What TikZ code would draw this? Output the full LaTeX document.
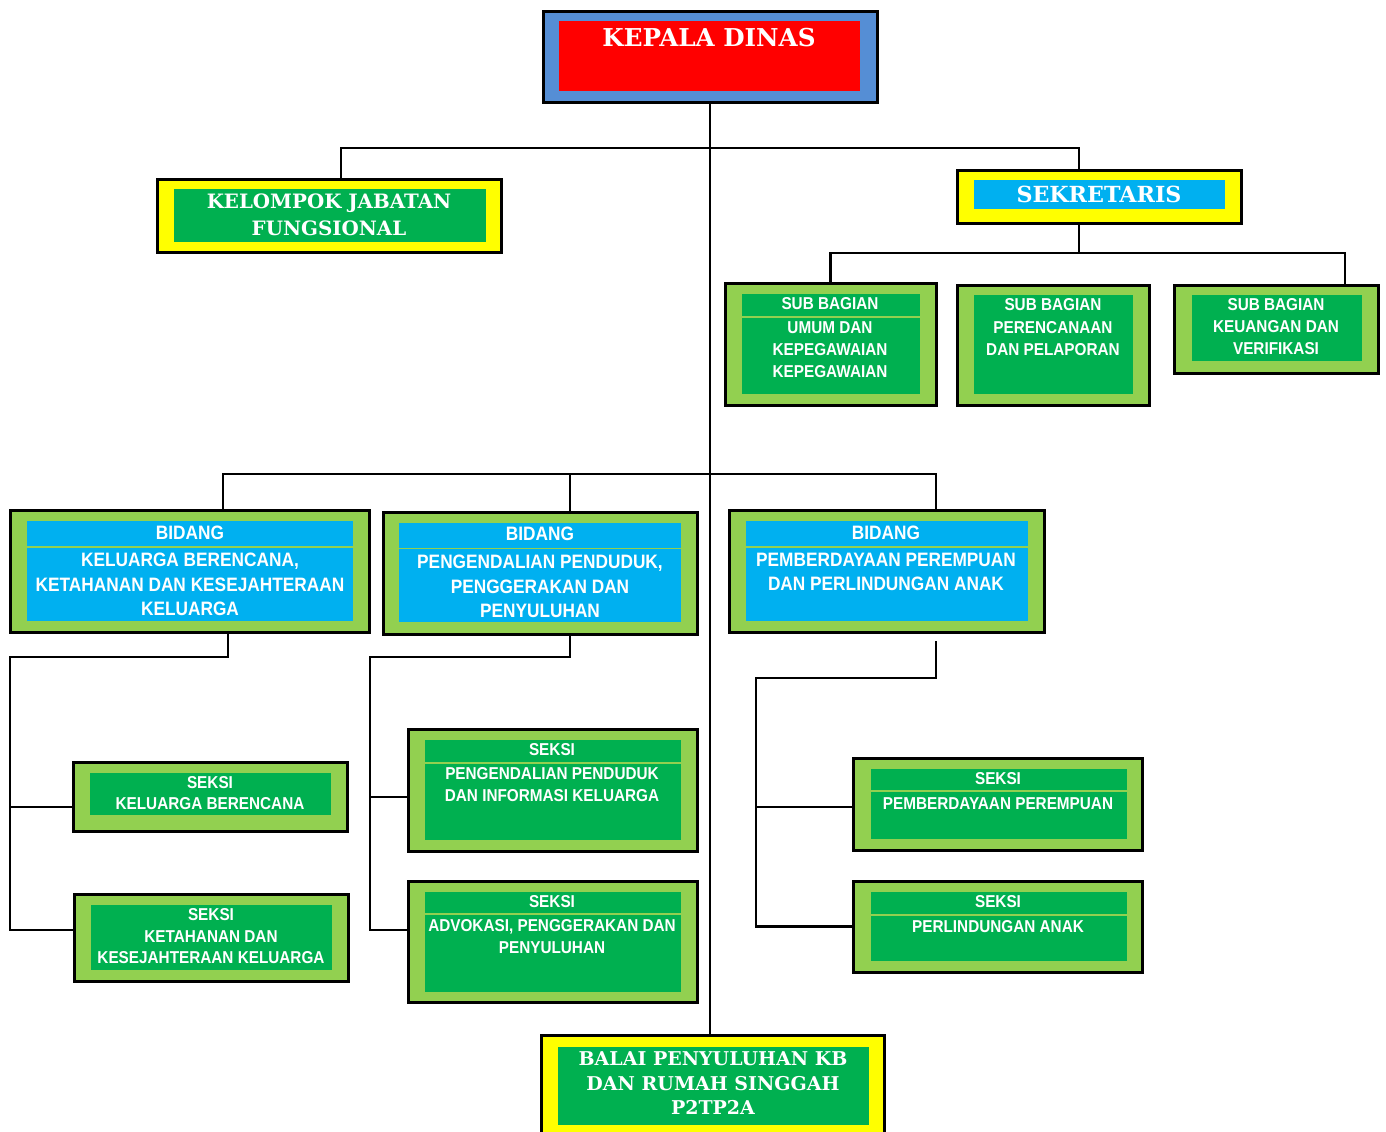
\documentclass[tikz,border=0pt]{standalone}
\usepackage{fontspec}
\newfontfamily\sansN[FakeStretch=0.89]{Liberation Sans}
\newfontfamily\serifB{DejaVu Serif}
\definecolor{cgreen}{HTML}{00B050}
\definecolor{clgreen}{HTML}{92D050}
\definecolor{ccyan}{HTML}{00B0F0}
\definecolor{cyellow}{HTML}{FFFF00}
\definecolor{cred}{HTML}{FF0000}
\definecolor{cblue}{HTML}{558ED5}
\newcommand\obx[6]{%
  \pgfmathsetmacro\bxw{(#4-#2)*0.5}%
  \pgfmathsetmacro\bxh{(#5-#3)*0.5}%
  \node[obox, fill=#6, minimum width=\bxw pt, minimum height=\bxh pt] (#1) at (#2,#3) {};}
\tikzset{
  obox/.style={draw=black, line width=1.5pt, inner sep=0pt, outer sep=0pt, anchor=north west, rectangle},
  conn/.style={draw=black, line width=1.25pt},
  sepline/.style={draw=clgreen, line width=0.8pt},
  lab/.style={text=white, align=center, inner sep=0pt},
  sbig/.style={lab, font=\sansN\bfseries\fontsize{9.7}{12.25}\selectfont},
  smid/.style={lab, font=\sansN\bfseries\fontsize{8.6}{11}\selectfont},
  serA/.style={lab, font=\serifB\bfseries\fontsize{12.3}{14}\selectfont},
  serB/.style={lab, font=\serifB\bfseries\fontsize{11.1}{13}\selectfont},
  serC/.style={lab, font=\serifB\bfseries\fontsize{9.5}{12.25}\selectfont},
}
\begin{document}
\begin{tikzpicture}[x=0.5pt, y=-0.5pt]
\clip (0,0) rectangle (1386,1131);
\fill[white] (0,0) rectangle (1386,1131);

% ---------- boxes ----------
\obx{kd}{543}{11}{877}{102}{cblue}
\fill[cred] (559,21) rectangle (860,91);
\node[serA] (kdt) at (709,38) {KEPALA DINAS};

\obx{kjf}{157}{179}{501}{252}{cyellow}
\fill[cgreen] (174,189) rectangle (486,242);
\node[serC, font=\serifB\bfseries\fontsize{9.9}{13.5}\selectfont] (kjft) at (329,214.5) {KELOMPOK JABATAN\\FUNGSIONAL};

\obx{sek}{957}{170}{1241}{223}{cyellow}
\fill[ccyan] (974,180) rectangle (1225,209);
\node[serB] (sekt) at (1099,194) {SEKRETARIS};

% sub bagian
\obx{sb1}{725}{283}{936}{405}{clgreen}
\fill[cgreen] (742,294) rectangle (920,394);
\draw[sepline] (742,317) -- (920,317);
\node[smid] (sb1a) at (830,304) {SUB BAGIAN};
\node[smid] (sb1b) at (830,349.5) {UMUM DAN\\KEPEGAWAIAN\\KEPEGAWAIAN};

\obx{sb2}{957}{285}{1149}{405}{clgreen}
\fill[cgreen] (974,295) rectangle (1133,394);
\node[smid, font=\sansN\bfseries\fontsize{8.6}{11.25}\selectfont] (sb2t) at (1053,327.5) {SUB BAGIAN\\PERENCANAAN\\DAN PELAPORAN};

\obx{sb3}{1174}{285}{1378}{373}{clgreen}
\fill[cgreen] (1192,295) rectangle (1362,361);
\node[smid] (sb3t) at (1276,327) {SUB BAGIAN\\KEUANGAN DAN\\VERIFIKASI};

% bidang
\obx{bd1}{10}{510}{369}{632}{clgreen}
\fill[ccyan] (27,521) rectangle (353,621);
\draw[sepline] (27,547) -- (353,547);
\node[sbig] (bd1a) at (190,533) {BIDANG};
\node[sbig] (bd1b) at (190,584.5) {KELUARGA BERENCANA,\\KETAHANAN DAN KESEJAHTERAAN\\KELUARGA};

\obx{bd2}{383}{512}{697}{634}{clgreen}
\fill[ccyan] (399,523) rectangle (681,622);
\draw[sepline] (399,548.5) -- (681,548.5);
\node[sbig] (bd2a) at (540,534) {BIDANG};
\node[sbig] (bd2b) at (540,586.5) {PENGENDALIAN PENDUDUK,\\PENGGERAKAN DAN\\PENYULUHAN};

\obx{bd3}{729}{510}{1044}{632}{clgreen}
\fill[ccyan] (746,521) rectangle (1028,621);
\draw[sepline] (746,547) -- (1028,547);
\node[sbig] (bd3a) at (886,533) {BIDANG};
\node[sbig] (bd3b) at (886,572) {PEMBERDAYAAN PEREMPUAN\\DAN PERLINDUNGAN ANAK};

% seksi
\obx{sk1}{73}{762}{347}{831}{clgreen}
\fill[cgreen] (90,773) rectangle (331,815);
\node[smid, font=\sansN\bfseries\fontsize{8.6}{10.5}\selectfont] (sk1t) at (210,793.5) {SEKSI\\KELUARGA BERENCANA};

\obx{sk2}{74}{894}{348}{981}{clgreen}
\fill[cgreen] (91,905) rectangle (332,970);
\node[smid, font=\sansN\bfseries\fontsize{8.6}{10.75}\selectfont] (sk2t) at (211,936.5) {SEKSI\\KETAHANAN DAN\\KESEJAHTERAAN KELUARGA};

\obx{sk3}{408}{729}{697}{851}{clgreen}
\fill[cgreen] (425,740) rectangle (681,840);
\draw[sepline] (425,763) -- (681,763);
\node[smid] (sk3a) at (552,750) {SEKSI};
\node[smid] (sk3b) at (552,785) {PENGENDALIAN PENDUDUK\\DAN INFORMASI KELUARGA};

\obx{sk4}{408}{881}{697}{1002}{clgreen}
\fill[cgreen] (425,892) rectangle (681,992);
\draw[sepline] (425,914) -- (681,914);
\node[smid] (sk4a) at (552,902) {SEKSI};
\node[smid] (sk4b) at (552,937) {ADVOKASI, PENGGERAKAN DAN\\PENYULUHAN};

\obx{sk5}{853}{758}{1142}{850}{clgreen}
\fill[cgreen] (871,769) rectangle (1127,839);
\draw[sepline] (871,791) -- (1127,791);
\node[smid] (sk5a) at (998,779) {SEKSI};
\node[smid] (sk5b) at (998,804) {PEMBERDAYAAN PEREMPUAN};

\obx{sk6}{853}{881}{1142}{972}{clgreen}
\fill[cgreen] (871,892) rectangle (1127,961);
\draw[sepline] (871,915) -- (1127,915);
\node[smid] (sk6a) at (998,902) {SEKSI};
\node[smid] (sk6b) at (998,927) {PERLINDUNGAN ANAK};

\obx{balai}{541}{1035}{884}{1145}{cyellow}
\fill[cgreen] (558,1047) rectangle (869,1125);
\node[serC] (balait) at (713,1083.5) {BALAI PENYULUHAN KB\\DAN RUMAH SINGGAH\\P2TP2A};

% ---------- connectors ----------
\coordinate (h1) at (711,148);
\coordinate (h2) at (1079,253);
\coordinate (h3) at (711,474);
\coordinate (c1) at (10,657);
\coordinate (c2) at (370,657);
\coordinate (b3a) at (936,641);
\coordinate (c3) at (756,678);

\draw[conn] (kd.south) -- (kd.south |- balai.north);
\draw[conn] ([xshift=6pt]kjf.north) |- (h1) -| ([xshift=-10pt]sek.north);
\draw[conn] ([xshift=-10pt]sek.south) -- (h2);
\draw[conn] (sb1.north) |- (h2) -| ([xshift=34.5pt]sb3.north);
\draw[conn] ([xshift=16.75pt]bd1.north) |- (h3) -| ([xshift=24.75pt]bd3.north);
\draw[conn] ([xshift=15pt]bd2.north) -- ([xshift=15pt]bd2.north |- h3);

\draw[conn] ([xshift=19.25pt]bd1.south) |- (c1) |- ([yshift=3.75pt]sk2.west);
\draw[conn] (c1 |- sk1.west) ++(0,10.5) -- ([yshift=-5.25pt]sk1.west);

\draw[conn] ([xshift=15pt]bd2.south) |- (c2) |- ([yshift=5.75pt]sk4.west);
\draw[conn] ([yshift=-3.5pt]sk3.west) -- ([yshift=-3.5pt]sk3.west -| c2);

\draw[conn] (b3a) |- (c3) |- (sk6.west);
\draw[conn] ([yshift=-1.5pt]sk5.west) -- ([yshift=-1.5pt]sk5.west -| c3);
\end{tikzpicture}
\end{document}
